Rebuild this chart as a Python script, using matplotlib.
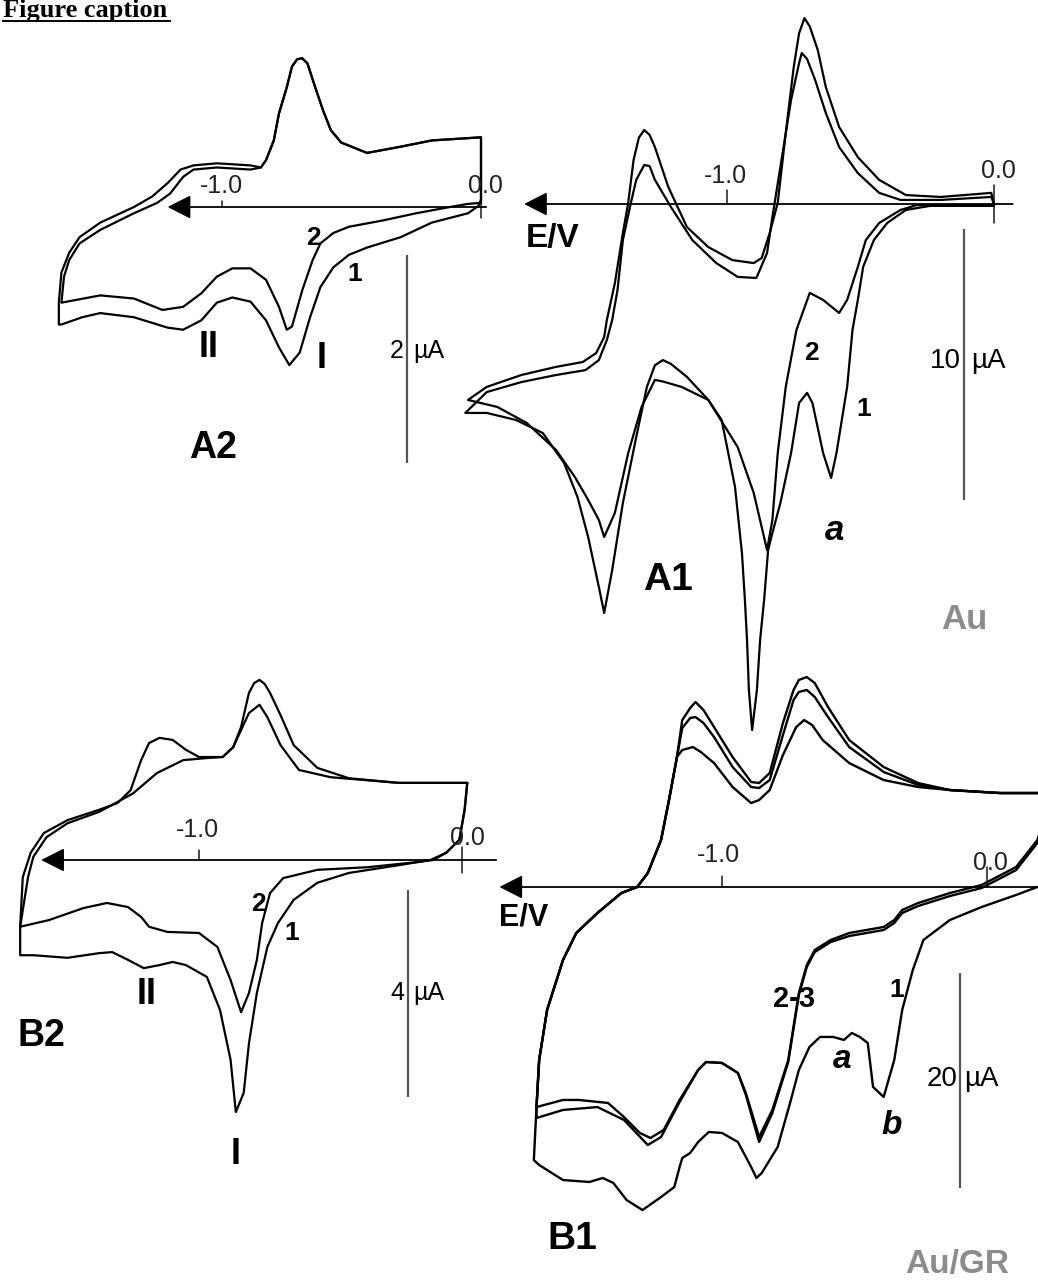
import matplotlib
matplotlib.use("Agg")
import matplotlib.pyplot as plt
from matplotlib.lines import Line2D

W, H = 1038, 1285
SANS = "Liberation Sans"

# ---------------- A2 : Au, 2 uA ----------------
A2_E1 = [0.00, -0.01, -0.05, -0.19, -0.31, -0.44, -0.51, -0.57, -0.62, -0.66, -0.70, -0.74, -0.78,
         -0.83, -0.89, -0.96, -1.02, -1.08, -1.15, -1.21, -1.34, -1.47, -1.54, -1.62, -1.63,
         -1.63, -1.62, -1.59, -1.55, -1.47, -1.34, -1.27, -1.21, -1.16, -1.11, -1.02, -0.89, -0.85,
         -0.83, -0.80, -0.78, -0.75, -0.73, -0.71, -0.69, -0.67, -0.64, -0.61, -0.58, -0.54, -0.44,
         -0.31, -0.19, 0.00, 0.00]
A2_I1 = [0.07, 0.01, -0.06, -0.15, -0.29, -0.39, -0.46, -0.58, -0.77, -1.06, -1.40, -1.52, -1.35,
         -1.09, -0.91, -0.87, -0.92, -1.09, -1.18, -1.16, -1.06, -1.02, -1.06, -1.13, -1.13,
         -0.92, -0.63, -0.44, -0.29, -0.15, 0.00, 0.10, 0.23, 0.36, 0.40, 0.42, 0.40, 0.38,
         0.45, 0.64, 0.90, 1.15, 1.35, 1.42, 1.43, 1.38, 1.15, 0.93, 0.74, 0.62, 0.52,
         0.58, 0.64, 0.67, 0.07]
A2_E2 = [0.00, -0.05, -0.12, -0.25, -0.38, -0.51, -0.57, -0.62, -0.65, -0.69, -0.73, -0.75, -0.78,
         -0.83, -0.89, -0.96, -1.02, -1.08, -1.15, -1.23, -1.34, -1.47, -1.62,
         -1.61, -1.59, -1.55, -1.47, -1.34, -1.25, -1.20, -1.15, -1.11, -1.02, -0.89, -0.85, -0.83,
         -0.80, -0.78, -0.75, -0.73, -0.71, -0.69, -0.67, -0.64, -0.61, -0.58, -0.54, -0.44, -0.31,
         -0.19, 0.00, 0.00]
A2_I2 = [0.04, 0.03, 0.00, -0.06, -0.13, -0.19, -0.25, -0.35, -0.51, -0.80, -1.15, -1.18, -0.96,
         -0.70, -0.59, -0.59, -0.67, -0.83, -0.96, -0.99, -0.88, -0.85, -0.92,
         -0.67, -0.51, -0.35, -0.22, -0.06, 0.04, 0.13, 0.29, 0.36, 0.38, 0.36, 0.38, 0.45,
         0.64, 0.90, 1.15, 1.35, 1.42, 1.43, 1.38, 1.15, 0.93, 0.74, 0.62, 0.52, 0.58,
         0.64, 0.67, 0.04]

# ---------------- A1 : Au, 10 uA ----------------
A1_E1 = [0.00, -0.13, -0.24, -0.33, -0.40, -0.45, -0.49, -0.51, -0.53, -0.55, -0.59, -0.61, -0.64,
         -0.68, -0.70, -0.73, -0.76, -0.80, -0.83, -0.846, -0.861, -0.876, -0.888, -0.906, -0.918,
         -0.925, -0.933, -0.944, -0.97, -1.02, -1.07, -1.15, -1.21, -1.24, -1.27, -1.30, -1.34,
         -1.39, -1.43, -1.46, -1.48, -1.52, -1.56, -1.61, -1.69, -1.79, -1.90, -1.98,
         -1.90, -1.77, -1.64, -1.53, -1.48, -1.45, -1.43, -1.41, -1.39, -1.36, -1.34, -1.31, -1.29,
         -1.27, -1.21, -1.13, -1.04, -0.96, -0.89, -0.85, -0.83, -0.80, -0.76, -0.73, -0.72, -0.70,
         -0.67, -0.63, -0.58, -0.51, -0.43, -0.35, -0.20, -0.01, 0.00]
A1_I1 = [-0.07, -0.07, -0.07, -0.22, -0.70, -1.33, -2.32, -3.54, -4.65, -6.75, -9.19, -10.11, -9.19,
         -7.34, -6.97, -7.34, -9.19, -11.03, -12.14, -12.77, -14.61, -16.09, -17.93, -19.41, -17.93,
         -16.09, -14.61, -12.88, -10.44, -7.97, -7.23, -6.38, -5.90, -5.76, -5.95, -6.75, -8.60,
         -11.03, -13.51, -15.09, -14.13, -12.29, -10.81, -9.56, -8.45, -7.97, -7.71, -7.71,
         -6.94, -6.57, -6.31, -6.13, -5.76, -5.02, -4.28, -3.17, -1.33, 0.04, 0.89, 1.44, 1.40,
         0.89, -0.11, -1.33, -2.18, -2.69, -2.73, -1.81, -0.48, 1.37, 3.84, 5.20, 5.57, 5.35,
         4.58, 3.36, 2.10, 1.14, 0.41, 0.15, 0.15, 0.26, 0.00]
A1_E2 = [0.00, -0.13, -0.29, -0.35, -0.43, -0.48, -0.51, -0.55, -0.58, -0.64, -0.69, -0.74, -0.78,
         -0.81, -0.83, -0.85, -0.90, -0.96, -1.07, -1.17, -1.24, -1.27, -1.32, -1.37, -1.42, -1.46,
         -1.48, -1.52, -1.57, -1.64, -1.75, -1.86, -1.97,
         -1.90, -1.77, -1.64, -1.54, -1.49, -1.46, -1.45, -1.42, -1.39, -1.37, -1.35, -1.33, -1.31,
         -1.29, -1.27, -1.22, -1.15, -1.07, -0.98, -0.90, -0.87, -0.84, -0.81, -0.78, -0.75, -0.73,
         -0.71, -0.69, -0.66, -0.63, -0.58, -0.51, -0.43, -0.33, -0.20, -0.01, 0.00]
A1_I2 = [-0.04, -0.04, -0.04, -0.22, -0.70, -1.33, -2.32, -3.54, -4.02, -3.54, -3.28, -4.65, -6.75,
         -9.19, -11.66, -12.77, -10.66, -8.97, -7.23, -6.75, -6.55, -6.49, -7.49, -9.19, -11.40,
         -12.29, -11.66, -10.92, -10.07, -9.08, -8.08, -7.49, -7.23,
         -6.75, -6.31, -6.01, -5.83, -5.50, -4.91, -4.28, -2.92, -1.07, 0.04, 1.62, 2.45, 2.73,
         2.55, 2.10, 0.63, -0.85, -1.59, -2.07, -2.18, -1.99, -1.07, 0.04, 2.62, 5.06, 6.30,
         6.86, 6.55, 5.68, 4.32, 2.84, 1.73, 0.89, 0.33, 0.26, 0.41, -0.04]

# ---------------- B2 : Au/GR, 4 uA ----------------
B2_E1 = [0.02, 0.01, -0.01, -0.06, -0.12, -0.24, -0.43, -0.55, -0.64, -0.70, -0.74, -0.78, -0.81,
         -0.83, -0.86, -0.88, -0.92, -0.97, -1.05, -1.10, -1.15, -1.21, -1.27, -1.33, -1.38, -1.50,
         -1.63, -1.68,
         -1.68, -1.67, -1.64, -1.59, -1.50, -1.38, -1.31, -1.26, -1.22, -1.19, -1.15, -1.10, -1.05,
         -1.00, -0.91, -0.87, -0.84, -0.81, -0.79, -0.77, -0.75, -0.73, -0.69, -0.64, -0.55, -0.43,
         -0.24, 0.02]
B2_I1 = [1.49, 0.97, 0.39, 0.14, 0.00, -0.10, -0.25, -0.44, -0.77, -1.22, -1.68, -2.57, -3.54,
         -4.50, -4.87, -3.86, -2.90, -2.26, -2.03, -1.97, -2.03, -2.09, -1.93, -1.78, -1.80, -1.89,
         -1.84, -1.84,
         -1.29, -0.33, 0.14, 0.52, 0.77, 0.97, 1.10, 1.35, 1.93, 2.26, 2.36, 2.32, 2.13,
         1.99, 1.99, 2.18, 2.57, 3.23, 3.42, 3.48, 3.40, 3.23, 2.80, 2.22, 1.78, 1.58,
         1.49, 1.49]
B2_E2 = [-0.11, -0.17, -0.36, -0.55, -0.68, -0.73, -0.76, -0.78, -0.81, -0.84, -0.88, -0.93, -1.00,
         -1.12, -1.19, -1.22, -1.27, -1.35, -1.44, -1.57, -1.68,
         -1.65, -1.63, -1.58, -1.50, -1.38, -1.31, -1.25, -1.16, -1.06, -0.97, -0.91, -0.87, -0.81,
         -0.77, -0.74, -0.69, -0.62, -0.50, -0.24, 0.02, 0.01, -0.01, -0.06, -0.11]
B2_I2 = [0.00, -0.04, -0.14, -0.19, -0.35, -0.64, -1.22, -1.93, -2.57, -2.94, -2.32, -1.68, -1.41,
         -1.39, -1.29, -1.10, -0.91, -0.83, -0.93, -1.16, -1.29,
         -0.33, 0.06, 0.44, 0.71, 0.93, 1.12, 1.29, 1.68, 1.93, 1.97, 1.99, 2.18, 2.84,
         3.00, 2.76, 2.22, 1.74, 1.60, 1.49, 1.49, 0.97, 0.39, 0.14, 0.00]

# ---------------- B1 : Au/GR, 20 uA ----------------
# anodic rise at the negative end, common to the three scans
B1_rise_E = [-1.70, -1.69, -1.66, -1.60, -1.55, -1.47, -1.38, -1.32, -1.28, -1.23, -1.20, -1.17]
B1_rise_I = [-20.47, -16.09, -11.44, -6.79, -4.28, -2.42, -0.56, 0.00, 1.30, 4.37, 8.09, 12.09]

B1_E1_fwd = [0.25, 0.19, 0.11, -0.02, -0.14, -0.24, -0.28, -0.32, -0.35, -0.39, -0.43, -0.45, -0.48,
             -0.51, -0.54, -0.58, -0.63, -0.67, -0.71, -0.74, -0.79, -0.85, -0.87, -0.89, -0.94,
             -1.00, -1.05, -1.09, -1.12, -1.15, -1.16, -1.18, -1.23, -1.30, -1.36, -1.41, -1.45,
             -1.50, -1.60, -1.69, -1.71]
B1_I1_fwd = [0.00, 0.00, -0.74, -1.86, -3.07, -4.93, -7.72, -11.44, -16.09, -19.53, -18.60, -14.51,
             -13.95, -13.58, -14.23, -13.95, -13.95, -14.88, -17.02, -19.81, -24.19, -26.60, -27.07,
             -26.05, -23.72, -22.88, -22.79, -23.72, -24.74, -25.21, -26.05, -27.91, -28.84, -30.05,
             -29.12, -27.53, -27.07, -27.44, -27.26, -25.86, -25.40]
B1_E1_rev = [-1.15, -1.11, -1.08, -1.03, -0.96, -0.89, -0.86, -0.82, -0.77, -0.72, -0.69, -0.66,
             -0.62, -0.52, -0.39, -0.26, -0.14, 0.05, 0.25, 0.25]
B1_I1_rev = [12.74, 13.02, 12.56, 11.53, 9.30, 7.81, 8.09, 9.02, 12.28, 14.88, 15.53, 15.07,
             13.67, 11.53, 9.95, 9.30, 9.02, 8.74, 8.74, 0.00]

B1_E2_fwd = [0.25, 0.22, 0.19, 0.11, -0.02, -0.14, -0.26, -0.32, -0.35, -0.39, -0.52, -0.59, -0.65,
             -0.68, -0.71, -0.75, -0.81, -0.86, -0.91, -0.94, -1.00, -1.06, -1.09, -1.16, -1.22,
             -1.27, -1.31, -1.37, -1.43, -1.54, -1.60, -1.70]
B1_I2_fwd = [8.09, 6.70, 4.37, 1.86, 0.19, -0.56, -1.49, -2.14, -3.07, -3.72, -4.28, -4.93, -5.86,
             -7.26, -9.86, -16.09, -20.74, -23.26, -19.16, -17.30, -16.37, -16.28, -17.02, -19.81,
             -22.60, -23.35, -22.88, -21.40, -20.09, -19.81, -19.81, -20.47]
B1_E2_rev = [-1.15, -1.12, -1.10, -1.07, -1.03, -0.96, -0.89, -0.86, -0.82, -0.77, -0.73, -0.71,
             -0.68, -0.65, -0.60, -0.52, -0.39, -0.26, -0.14, 0.05, 0.25]
B1_I2_rev = [14.79, 15.72, 15.81, 15.26, 13.95, 11.16, 9.30, 9.21, 9.95, 14.14, 17.40, 18.14,
             18.33, 17.67, 15.81, 13.02, 10.70, 9.49, 9.02, 8.74, 8.74]

B1_E3_fwd = [0.25, 0.22, 0.19, 0.11, -0.02, -0.14, -0.26, -0.32, -0.35, -0.39, -0.52, -0.59, -0.65,
             -0.68, -0.71, -0.75, -0.81, -0.86, -0.91, -0.94, -1.00, -1.06, -1.09, -1.16, -1.23,
             -1.28, -1.37, -1.47, -1.60, -1.70]
B1_I3_fwd = [8.09, 6.42, 4.09, 1.58, -0.09, -0.84, -1.77, -2.42, -3.35, -4.00, -4.56, -5.12, -6.05,
             -7.44, -10.05, -16.28, -21.02, -23.72, -19.35, -17.30, -16.37, -16.28, -17.02, -20.00,
             -23.26, -24.00, -21.67, -20.47, -20.74, -21.49]
B1_E3_rev = [-1.15, -1.12, -1.10, -1.07, -1.03, -0.96, -0.89, -0.86, -0.82, -0.77, -0.73, -0.71,
             -0.68, -0.65, -0.60, -0.52, -0.39, -0.26, -0.14, 0.05, 0.25]
B1_I3_rev = [15.53, 16.65, 17.21, 16.47, 14.88, 12.09, 9.77, 9.67, 10.60, 15.26, 18.33, 19.26,
             19.53, 18.98, 16.74, 13.67, 11.16, 9.67, 9.02, 8.74, 8.74]

# scale bars (uA) and tick potentials (V)
SCALE_A2, SCALE_A1, SCALE_B2, SCALE_B1 = 2, 10, 4, 20
TICKS = [-1.0, 0.0]

fig = plt.figure(figsize=(W / 100, H / 100), dpi=100)


def make_panel(x0, y0, sx, sy):
    # every panel axes spans the whole figure; x0, y0 = pixel spot of E=0, I=0,
    # sx = px per volt, sy = px per microampere
    ax = fig.add_axes([0, 0, 1, 1])
    ax.set_xlim(-x0 / sx, (W - x0) / sx)
    ax.set_ylim((y0 - H) / sy, y0 / sy)
    ax.axis("off")
    ax.patch.set_alpha(0)
    return ax


def curve(ax, e, i, lw=1.6):
    ax.plot(e, i, color="black", lw=lw, solid_joinstyle="round", solid_capstyle="round")


def e_axis(ax, e_right, e_tip):
    ax.annotate("", xy=(e_tip, 0), xytext=(e_right, 0),
                arrowprops=dict(arrowstyle="-|>,head_length=0.55,head_width=0.28",
                                mutation_scale=26, lw=1.3, color="black",
                                shrinkA=0, shrinkB=0))


def tick(ax, e, up_px, down_px):
    for d in (up_px, -down_px):
        if d:
            ax.annotate("", xy=(e, 0), xytext=(0, d * 0.72), textcoords="offset points",
                        arrowprops=dict(arrowstyle="-", lw=1.0, color="black",
                                        shrinkA=0, shrinkB=0))


def tick_label(ax, e, text, dy_px, dx_px=0):
    ax.annotate(text, xy=(e, 0), xytext=(dx_px * 0.72, dy_px * 0.72), textcoords="offset points",
                ha="center", va="baseline", fontsize=18, family=SANS, color="#222222")


def scale_bar(ax, e, i_top, size):
    ax.plot([e, e], [i_top, i_top - size], color="#555555", lw=1.6, solid_capstyle="butt")


def label(x, y, s, size, weight="bold", style="normal", color="black", ha="center"):
    fig.text(x / W, 1 - y / H, s, fontsize=size, fontweight=weight, fontstyle=style,
             color=color, ha=ha, va="center", family=SANS)


# ---------------- A2 ----------------
ax = make_panel(481, 207, 259, 104)
curve(ax, A2_E1, A2_I1)
curve(ax, A2_E2, A2_I2)
e_axis(ax, 0.02, -1.21)
tick(ax, TICKS[0], 6, 0)
tick(ax, TICKS[1], 14, 11)
tick_label(ax, TICKS[0], "-1.0", 14, -1)
tick_label(ax, TICKS[1], "0.0", 14, 4)
scale_bar(ax, -0.286, -0.46, SCALE_A2)
label(404, 351, "2", 18, weight="normal", ha="right")
label(413, 351, "\u00b5A", 18, weight="normal", ha="left")
label(313, 238, "2", 19)
label(355, 274, "1", 19)
label(209, 348, "II", 26)
label(322, 359, "I", 26)
label(213, 448, "A2", 27)

# ---------------- A1 ----------------
ax = make_panel(994, 204, 267, 27.1)
curve(ax, A1_E1, A1_I1)
curve(ax, A1_E2, A1_I2)
e_axis(ax, 0.07, -1.76)
tick(ax, TICKS[0], 14, 0)
tick(ax, TICKS[1], 19, 19)
tick_label(ax, TICKS[0], "-1.0", 21, -2)
tick_label(ax, TICKS[1], "0.0", 26, 4)
scale_bar(ax, -0.112, -0.92, SCALE_A1)
label(961, 361, "10", 20, weight="normal", ha="right")
label(971, 361, "\u00b5A", 20, weight="normal", ha="left")
label(553, 238, "E/V", 24)
label(811, 353, "2", 19)
label(864, 409, "1", 19)
label(835, 530, "a", 25, style="italic")
label(668, 580, "A1", 28)
label(964, 619, "Au", 25, color="#8c8c8c")

# ---------------- B2 ----------------
ax = make_panel(462, 860, 263, 51.75)
curve(ax, B2_E1, B2_I1)
curve(ax, B2_E2, B2_I2)
e_axis(ax, 0.13, -1.60)
tick(ax, TICKS[0], 10, 0)
tick(ax, TICKS[1], 13, 13)
tick_label(ax, TICKS[0], "-1.0", 23, -2)
tick_label(ax, TICKS[1], "0.0", 15, 5)
scale_bar(ax, -0.205, -0.58, SCALE_B2)
label(404, 993, "4", 18, weight="normal", ha="right")
label(413, 993, "\u00b5A", 18, weight="normal", ha="left")
label(258, 904, "2", 19)
label(292, 933, "1", 19)
label(147, 995, "II", 26)
label(236, 1154, "I", 26)
label(41, 1036, "B2", 27)

# ---------------- B1 ----------------
ax = make_panel(987, 887, 265, 10.75)
curve(ax, B1_E1_fwd + B1_rise_E + B1_E1_rev, B1_I1_fwd + B1_rise_I + B1_I1_rev, lw=1.7)
curve(ax, B1_E2_fwd + B1_rise_E + B1_E2_rev, B1_I2_fwd + B1_rise_I + B1_I2_rev, lw=1.7)
curve(ax, B1_E3_fwd + B1_rise_E + B1_E3_rev, B1_I3_fwd + B1_rise_I + B1_I3_rev, lw=1.7)
e_axis(ax, 0.22, -1.84)
tick(ax, TICKS[0], 11, 0)
tick(ax, TICKS[1], 20, 0)
tick_label(ax, TICKS[0], "-1.0", 25, -4)
tick_label(ax, TICKS[1], "0.0", 17, 3)
scale_bar(ax, -0.102, -8.0, SCALE_B1)
label(958, 1079, "20", 20, weight="normal", ha="right")
label(964, 1079, "\u00b5A", 20, weight="normal", ha="left")
label(524, 918, "E/V", 22)
label(794, 999, "2-3", 21)
label(897, 990, "1", 19)
label(842, 1060, "a", 24, style="italic")
label(892, 1125, "b", 24, style="italic")
label(572, 1239, "B1", 28)
label(957, 1265, "Au/GR", 24, color="#8c8c8c")

# caption line at the very top, underlined
fig.text(3 / W, 1 - 17 / H, "Figure caption", fontsize=19, fontweight="bold",
         family="Liberation Serif", ha="left", va="baseline")
fig.add_artist(Line2D([3 / W, 170 / W], [1 - 21 / H, 1 - 21 / H], lw=1.4, color="black"))

fig.savefig("out.png", dpi=100)
